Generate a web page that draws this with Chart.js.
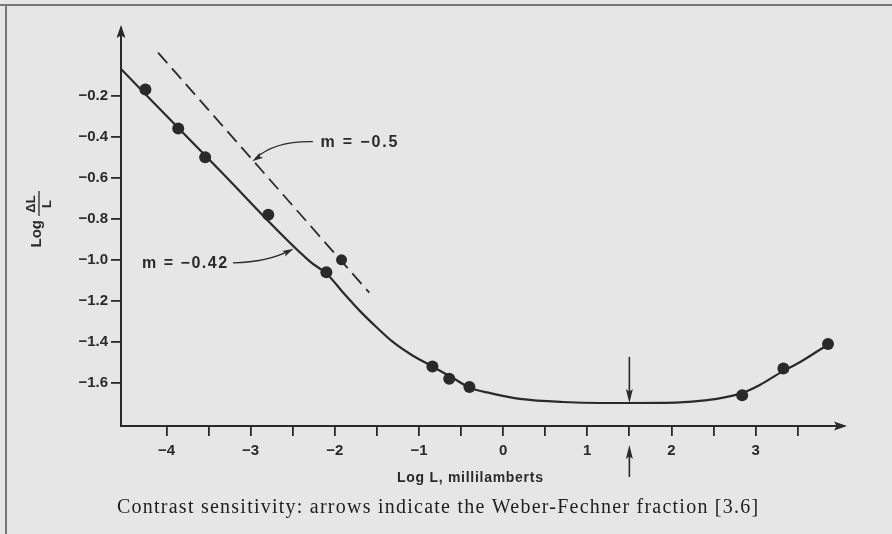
<!DOCTYPE html>
<html>
<head>
<meta charset="utf-8">
<title>Contrast sensitivity</title>
<script src="https://cdn.jsdelivr.net/npm/chart.js@4/dist/chart.umd.min.js"></script>
<style>
  html, body { margin: 0; padding: 0; background: #e6e6e6; }
  #wrap { width: 892px; height: 534px; position: relative; }
</style>
</head>
<body>
<div id="wrap"><canvas id="chart" width="892" height="534"></canvas></div>
<script>
// Measured points (log L, log dL/L)
const pointX = [-4.25, -3.86, -3.54, -2.79, -2.10, -0.84, -0.64, -0.40, 2.84, 3.33, 3.86];
const pointY = [-0.17, -0.36, -0.50, -0.78, -1.06, -1.52, -1.58, -1.62, -1.66, -1.53, -1.41];

// Extra point sitting on the dashed m = -0.5 line
const dashPointX = [-1.92];
const dashPointY = [-1.00];

// Fitted solid curve
const curveX = [-4.54, -3.40, -2.29, -2.09, -1.90, -1.70, -1.50, -1.31, -1.10, -0.84, -0.62, -0.39, -0.15,
                0.20, 0.71, 1.48, 2.10, 2.40, 2.66, 2.84, 3.05, 3.31, 3.53, 3.85];
const curveY = [-0.07, -0.55, -1.01, -1.07, -1.16, -1.25, -1.33, -1.40, -1.46, -1.52, -1.57, -1.625, -1.65,
                -1.678, -1.693, -1.698, -1.695, -1.685, -1.668, -1.649, -1.61, -1.546, -1.498, -1.415];

// Dashed reference line, slope about -0.5
const dashX = [-4.10, -1.59];
const dashY = [0.01, -1.16];

// Axis ticks
const xTickValues = [-4, -3.5, -3, -2.5, -2, -1.5, -1, -0.5, 0, 0.5, 1, 1.5, 2, 2.5, 3, 3.5];
const yTickValues = [-0.2, -0.4, -0.6, -0.8, -1.0, -1.2, -1.4, -1.6];

// Weber-Fechner marker position
const weberX = 1.5;

const INK = '#2a2a2a';
const SANS = '"Liberation Sans", Arial, sans-serif';
const SERIF = '"Liberation Serif", "DejaVu Serif", serif';

const toXY = (xs, ys) => xs.map((x, i) => ({ x: x, y: ys[i] }));
const minus = (s) => s.replace('-', '\u2212');

// draw text, spread out with letter spacing to reach a target width
const spreadText = (ctx, text, x, y, width, align) => {
  ctx.letterSpacing = '0px';
  const w = ctx.measureText(text).width;
  const extra = Math.max(0, (width - w) / Math.max(1, text.length - 1));
  ctx.letterSpacing = extra.toFixed(2) + 'px';
  ctx.textAlign = align || 'left';
  ctx.fillText(text, x, y);
  ctx.letterSpacing = '0px';
};

const arrowHead = (ctx, x, y, angle, len, half) => {
  ctx.save();
  ctx.translate(x, y);
  ctx.rotate(angle);
  ctx.beginPath();
  ctx.moveTo(0, 0);
  ctx.lineTo(-len, -half);
  ctx.lineTo(-len * 0.8, 0);
  ctx.lineTo(-len, half);
  ctx.closePath();
  ctx.fill();
  ctx.restore();
};

const paperPlugin = {
  id: 'paper',
  beforeDraw: (chart) => {
    const ctx = chart.ctx;
    ctx.save();
    ctx.fillStyle = '#e6e6e6';
    ctx.fillRect(0, 0, chart.width, chart.height);
    // scanned page frame
    ctx.fillStyle = '#777';
    ctx.fillRect(0, 4, chart.width, 2);
    ctx.fillRect(5, 4, 2, chart.height - 4);
    ctx.restore();
  }
};

const decorPlugin = {
  id: 'decor',
  afterDraw: (chart) => {
    const ctx = chart.ctx;
    const xs = chart.scales.x;
    const ys = chart.scales.y;
    const area = chart.chartArea;
    const px = (v) => xs.getPixelForValue(v);
    const py = (v) => ys.getPixelForValue(v);

    ctx.save();
    ctx.fillStyle = INK;
    ctx.strokeStyle = INK;

    // axis arrow heads
    arrowHead(ctx, area.left, area.top - 3, -Math.PI / 2, 13, 4.5);
    arrowHead(ctx, area.right + 3, area.bottom, 0, 13, 4.5);

    // Weber-Fechner arrows
    const wx = px(weberX);
    const tip = py(-1.698);
    ctx.lineWidth = 1.6;
    ctx.beginPath();
    ctx.moveTo(wx, py(-1.473));
    ctx.lineTo(wx, tip - 6);
    ctx.stroke();
    arrowHead(ctx, wx, tip, Math.PI / 2, 14, 3.5);
    ctx.beginPath();
    ctx.moveTo(wx, area.bottom + 51);
    ctx.lineTo(wx, area.bottom + 25);
    ctx.stroke();
    arrowHead(ctx, wx, area.bottom + 19, -Math.PI / 2, 14, 3.5);

    // slope labels with curved pointers
    ctx.font = 'bold 16px ' + SANS;
    ctx.textBaseline = 'middle';
    spreadText(ctx, 'm = \u22120.5', px(-2.17), py(-0.43), 77, 'left');
    spreadText(ctx, 'm = \u22120.42', px(-4.29), py(-1.02), 85, 'left');

    ctx.lineWidth = 1.4;
    ctx.beginPath();
    ctx.moveTo(px(-2.26), py(-0.424));
    ctx.quadraticCurveTo(px(-2.71), py(-0.42), px(-2.94), py(-0.505));
    ctx.stroke();
    arrowHead(ctx, px(-2.98), py(-0.52), Math.atan2(py(-0.52) - py(-0.47), px(-2.98) - px(-2.8)), 11, 3);

    ctx.beginPath();
    ctx.moveTo(px(-3.21), py(-1.015));
    ctx.quadraticCurveTo(px(-2.79), py(-1.01), px(-2.54), py(-0.955));
    ctx.stroke();
    arrowHead(ctx, px(-2.49), py(-0.946), Math.atan2(py(-0.946) - py(-0.99), px(-2.49) - px(-2.7)), 11, 3);

    // x axis title
    ctx.font = 'bold 14px ' + SANS;
    ctx.textBaseline = 'alphabetic';
    spreadText(ctx, 'Log L, millilamberts', 397, 482, 146, 'left');

    // y axis title: Log (dL / L), rotated
    ctx.save();
    ctx.translate(39, 218);
    ctx.rotate(-Math.PI / 2);
    ctx.font = 'bold 15px ' + SANS;
    ctx.textBaseline = 'middle';
    ctx.textAlign = 'right';
    ctx.fillText('Log', -2, -2);
    ctx.font = 'bold 13px ' + SANS;
    ctx.textAlign = 'center';
    ctx.fillText('\u0394L', 14, -8);
    ctx.fillText('L', 14, 8);
    ctx.lineWidth = 1.3;
    ctx.beginPath();
    ctx.moveTo(2, 0);
    ctx.lineTo(27, 0);
    ctx.stroke();
    ctx.restore();

    // figure caption
    ctx.font = '20px ' + SERIF;
    ctx.textBaseline = 'alphabetic';
    ctx.fillStyle = '#1e1e1e';
    spreadText(ctx, 'Contrast sensitivity: arrows indicate the Weber-Fechner fraction [3.6]', 117, 513, 641, 'left');

    ctx.restore();
  }
};

const axisBase = {
  type: 'linear',
  grid: {
    drawOnChartArea: false,
    drawTicks: true,
    tickLength: 10,
    color: INK,
    lineWidth: 1.8
  },
  border: { display: true, color: INK, width: 2 }
};

const ctx = document.getElementById('chart').getContext('2d');
const chart = new Chart(ctx, {
  type: 'scatter',
  data: {
    datasets: [
      {
        label: 'Fitted curve',
        data: toXY(curveX, curveY),
        showLine: true,
        borderColor: INK,
        borderWidth: 2.2,
        pointRadius: 0,
        cubicInterpolationMode: 'monotone',
        fill: false
      },
      {
        label: 'm = -0.5',
        data: toXY(dashX, dashY),
        showLine: true,
        borderColor: INK,
        borderWidth: 1.8,
        borderDash: [14, 7],
        pointRadius: 0,
        fill: false
      },
      {
        label: 'Measured',
        data: toXY(pointX, pointY),
        pointRadius: 6,
        pointBackgroundColor: INK,
        pointBorderWidth: 0
      },
      {
        label: 'Measured (dashed)',
        data: toXY(dashPointX, dashPointY),
        pointRadius: 5.5,
        pointBackgroundColor: INK,
        pointBorderWidth: 0
      }
    ]
  },
  options: {
    responsive: false,
    animation: false,
    events: [],
    layout: { padding: { top: 28, right: 48, left: 0, bottom: 0 } },
    plugins: {
      legend: { display: false },
      tooltip: { enabled: false }
    },
    scales: {
      x: {
        ...axisBase,
        min: -4.54,
        max: 4.05,
        afterBuildTicks: (scale) => { scale.ticks = xTickValues.map(v => ({ value: v })); },
        afterFit: (scale) => { scale.height = 108; },
        ticks: {
          autoSkip: false,
          maxRotation: 0,
          padding: 6,
          color: INK,
          font: { family: SANS, size: 15, weight: 'bold' },
          callback: (v) => Number.isInteger(v) ? minus(String(v)) : ''
        }
      },
      y: {
        ...axisBase,
        min: -1.81,
        max: 0.13,
        afterBuildTicks: (scale) => { scale.ticks = yTickValues.map(v => ({ value: v })); },
        afterFit: (scale) => { scale.width = 121; },
        ticks: {
          autoSkip: false,
          padding: 3,
          color: INK,
          font: { family: SANS, size: 15, weight: 'bold' },
          callback: (v) => minus(Number(v).toFixed(1))
        }
      }
    }
  },
  plugins: [paperPlugin, decorPlugin]
});
</script>
</body>
</html>
